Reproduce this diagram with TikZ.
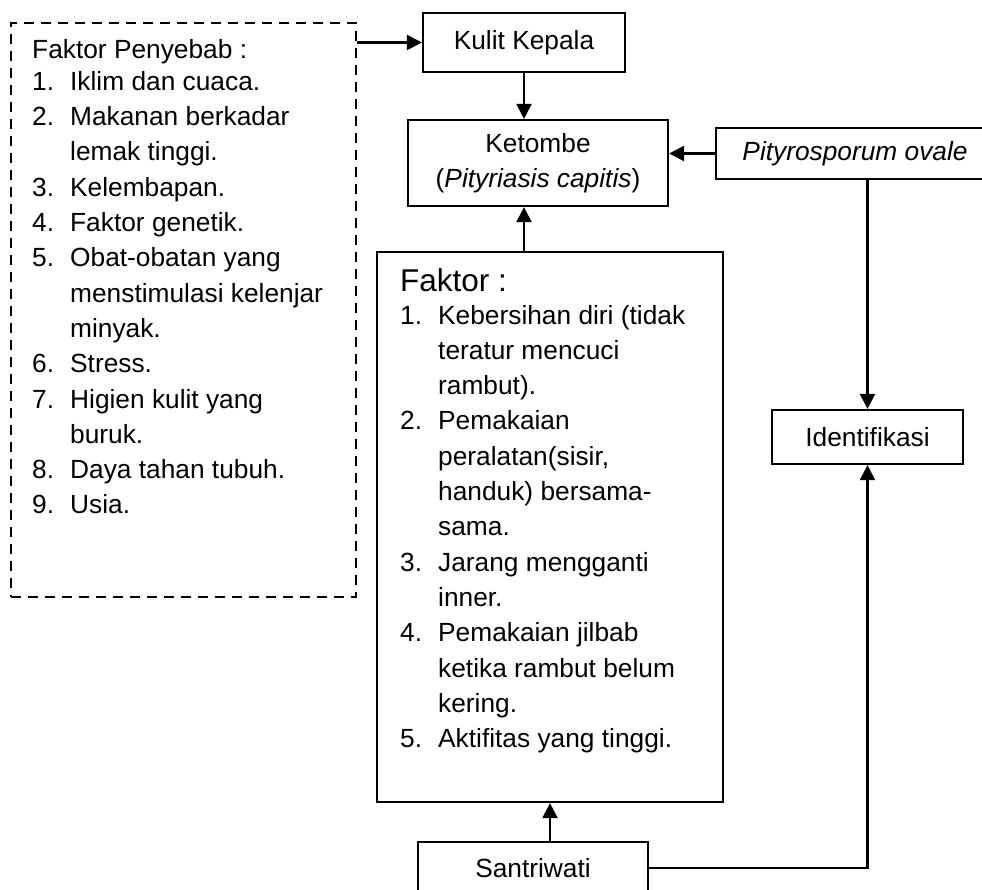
\documentclass[tikz,border=0pt]{standalone}
\usepackage{fontspec}
\setmainfont{Liberation Sans}
\usetikzlibrary{arrows.meta, positioning}

\newcommand{\itm}[2]{\makebox[38pt][l]{#1}#2}
\newcommand{\lanjut}[1]{\hspace*{38pt}#1}

\begin{document}
\begin{tikzpicture}[
  x=1pt, y=1pt,
  kotak/.style={draw, line width=2.2pt, align=center, inner sep=0pt},
  putus/.style={draw, line width=2.2pt, dash pattern=on 10pt off 7pt},
  daftar/.style={align=left, inner sep=0pt, anchor=north west},
  arr/.style={-{Triangle[length=15pt, width=15pt]}, line width=2.2pt},
  font=\fontsize{26.3}{35.3}\selectfont
]
\useasboundingbox (0,0) rectangle (982,-890);

% faktor penyebab (dashed)
\node[putus, minimum width=345pt, minimum height=574pt] (penyebab) at (183.5,-310) {};
\node[daftar] (penyebabtxt) at (32,-38.8) {Faktor Penyebab :\\[-3pt]
  \itm{1.}{Iklim dan cuaca.}\\
  \itm{2.}{Makanan berkadar}\\
  \lanjut{lemak tinggi.}\\
  \itm{3.}{Kelembapan.}\\
  \itm{4.}{Faktor genetik.}\\
  \itm{5.}{Obat-obatan yang}\\
  \lanjut{menstimulasi kelenjar}\\
  \lanjut{minyak.}\\
  \itm{6.}{Stress.}\\
  \itm{7.}{Higien kulit yang}\\
  \lanjut{buruk.}\\
  \itm{8.}{Daya tahan tubuh.}\\
  \itm{9.}{Usia.}};

% main boxes
\node[kotak, minimum width=202pt, minimum height=59pt] (kulit) at (524,-42.5) {Kulit Kepala};
\node[kotak, minimum width=260pt, minimum height=86pt] (ketombe) at (538,-163) {Ketombe\\(\textit{Pityriasis capitis})};
\node[kotak, minimum width=278pt, minimum height=51pt] (pity) at (855,-153.5) {\textit{Pityrosporum ovale}};
\node[kotak, minimum width=191pt, minimum height=54pt] (ident) at (867.5,-437) {Identifikasi};
\node[kotak, minimum width=346pt, minimum height=550pt] (faktor) at (550,-527) {};
\node[kotak, minimum width=230pt, minimum height=52pt] (santri) at (533,-868) {Santriwati};

% isi kotak faktor
\node[anchor=base west, inner sep=0pt, font=\fontsize{31.5}{36}\selectfont] (faktorjudul) at (400,-292) {Faktor :};
\node[daftar] (faktortxt) at (400,-304.8) {\itm{1.}{Kebersihan diri (tidak}\\
  \lanjut{teratur mencuci}\\
  \lanjut{rambut).}\\
  \itm{2.}{Pemakaian}\\
  \lanjut{peralatan(sisir,}\\
  \lanjut{handuk) bersama-}\\
  \lanjut{sama.}\\
  \itm{3.}{Jarang mengganti}\\
  \lanjut{inner.}\\
  \itm{4.}{Pemakaian jilbab}\\
  \lanjut{ketika rambut belum}\\
  \lanjut{kering.}\\
  \itm{5.}{Aktifitas yang tinggi.}};

\draw[arr] (penyebab.east |- kulit.west) -- (kulit.west);
\draw[arr] (kulit.south) -- (kulit.south |- ketombe.north);
\draw[arr] (pity.west) -- (pity.west -| ketombe.east);
\draw[arr] (kulit.south |- faktor.north) -- (kulit.south |- ketombe.south);
\draw[arr] (ident.north |- pity.south) -- (ident.north);
\draw[arr] (faktor.south |- santri.north) -- (faktor.south);
\draw[arr] (santri.east) -| (ident.south);
\end{tikzpicture}
\end{document}
